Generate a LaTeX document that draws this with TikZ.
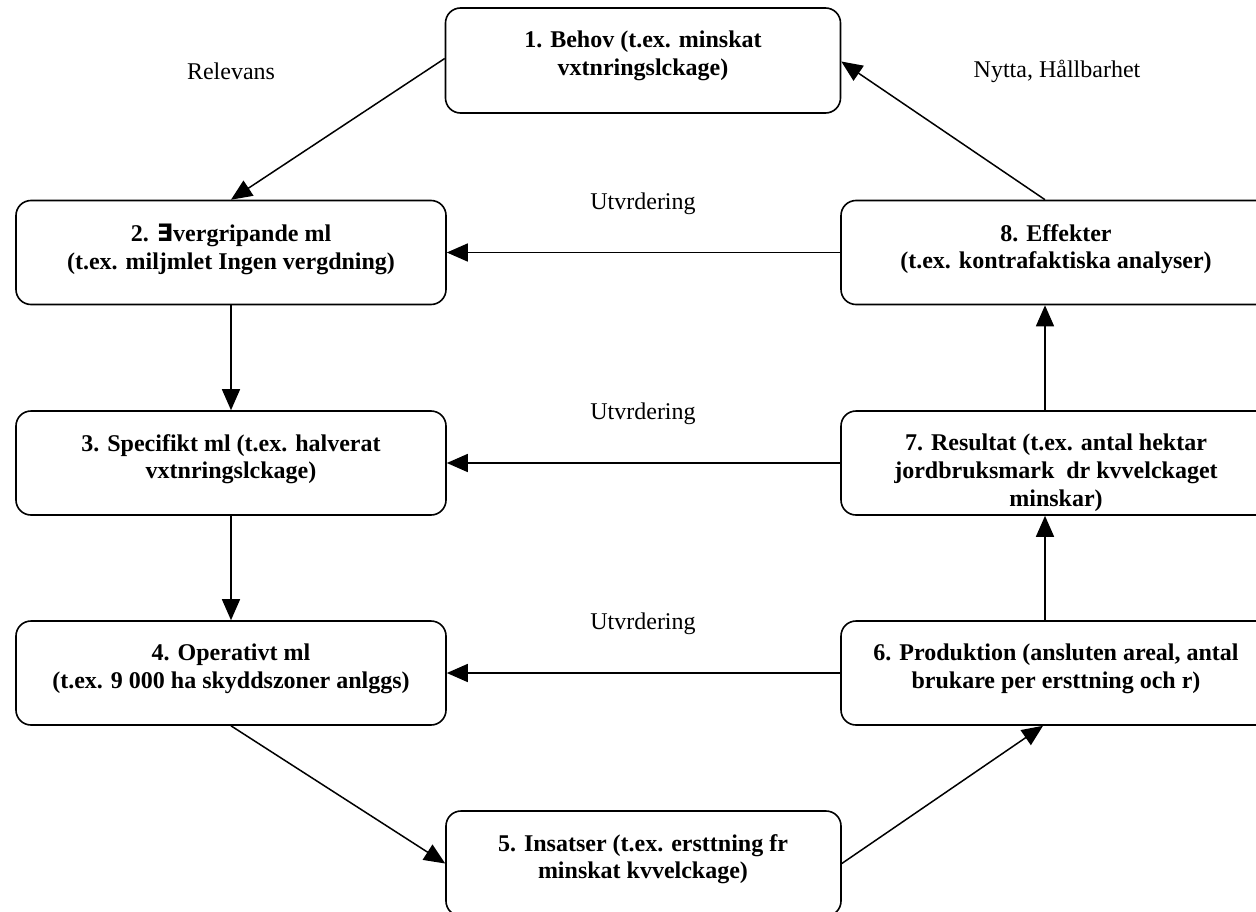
\documentclass[tikz,border=0pt]{standalone}
\usepackage{fontspec}
\setmainfont{Liberation Serif}
\newfontfamily\symfnt{DejaVu Sans}
\usetikzlibrary{arrows.meta,calc}
\begin{document}
\begin{tikzpicture}[x=1bp,y=-1bp,
  box/.style={draw,line width=1.6bp,rounded corners=15bp,inner sep=0pt},
  lbox/.style={box,minimum width=430bp,minimum height=104bp},
  cbox/.style={box,minimum width=395bp,minimum height=105bp},
  btxt/.style={anchor=north,align=center,inner sep=0pt,font=\fontsize{24bp}{27.6bp}\selectfont\bfseries},
  lbl/.style={inner sep=0pt,font=\fontsize{24bp}{27.6bp}\selectfont},
  arr/.style={line width=1.5bp,-{Triangle[length=21bp,width=18bp]}}]
\useasboundingbox (0,0) rectangle (1256,912);
% boxes
\node[cbox] (b1) at (643,60.5) {};
\node[lbox] (b2) at (231,252.5) {};
\node[lbox] (b3) at (231,463) {};
\node[lbox] (b4) at (231,673) {};
\node[cbox] (b5) at (643.5,863.5) {};
\node[lbox] (b6) at (1056,673) {};
\node[lbox] (b7) at (1056,463) {};
\node[lbox] (b8) at (1056,252.5) {};
% texts
\node[btxt] (t1) at (643,31) {1. Behov (t.ex. minskat\\vxtnringslckage)};
\node[btxt] (t2) at (231,224) {2. {\symfnt ∃}vergripande ml\\(t.ex. miljmlet Ingen vergdning)};
\node[btxt] (t3) at (231,434) {3. Specifikt ml (t.ex. halverat\\vxtnringslckage)};
\node[btxt] (t4) at (231,644) {4. Operativt ml\\(t.ex. 9 000 ha skyddszoner anlggs)};
\node[btxt] (t5) at (643,834) {5. Insatser (t.ex. ersttning fr\\minskat kvvelckage)};
\node[btxt] (t6) at (1056,644) {6. Produktion (ansluten areal, antal\\brukare per ersttning och r)};
\node[btxt] (t7) at (1056,434) {7. Resultat (t.ex. antal hektar\\jordbruksmark\ \ dr kvvelckaget\\minskar)};
\node[btxt] (t8) at (1056,224) {8. Effekter\\(t.ex. kontrafaktiska analyser)};
% labels
\node[lbl] (l1) at (231,71) {Relevans};
\node[lbl] (l2) at (1057,71) {Nytta, Hållbarhet};
\node[lbl] (u1) at (643,204) {Utvrdering};
\node[lbl] (u2) at (643,414) {Utvrdering};
\node[lbl] (u3) at (643,624) {Utvrdering};
% connectors
\draw[arr] ([yshift=2bp]b1.west) -- (b2.north);
\draw[arr] ([xshift=-11bp]b8.north) -- ([yshift=-1bp]b1.east);
\draw[arr] (b8.west) -- (b2.east);
\draw[arr] (b2.south) -- (b3.north);
\draw[arr] (b7.west) -- (b3.east);
\draw[arr] (b3.south) -- (b4.north);
\draw[arr] (b6.west) -- (b4.east);
\draw[arr] (b4.south) -- (b5.west);
\draw[arr] (b5.east) -- ([xshift=-13bp]b6.south);
\draw[arr] ([xshift=-11bp]b6.north) -- ([xshift=-11bp]b7.south);
\draw[arr] ([xshift=-11bp]b7.north) -- ([xshift=-11bp]b8.south);
\end{tikzpicture}
\end{document}
